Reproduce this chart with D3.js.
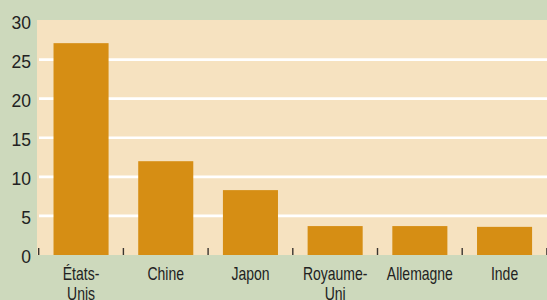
<!DOCTYPE html>
<html>
<head>
<meta charset="utf-8">
<script src="https://cdn.jsdelivr.net/npm/d3@7"></script>
<style>
  html, body { margin: 0; padding: 0; background: #cdd9bc; }
  svg { display: block; }
</style>
</head>
<body>
<svg id="chart" width="547" height="300"></svg>
<script>
// data
const countries = [['États-', 'Unis'], ['Chine'], ['Japon'], ['Royaume-', 'Uni'], ['Allemagne'], ['Inde']];
const values = [27.1, 12.0, 8.3, 3.7, 3.7, 3.6];
const yTicks = [0, 5, 10, 15, 20, 25, 30];

const width = 547;
const height = 300;
const plot = { left: 37, top: 20, bottom: 255 };

const svg = d3.select('#chart');

svg.append('rect')
  .attr('width', width)
  .attr('height', height)
  .attr('fill', '#cdd9bc');

const x = d3.scaleBand()
  .domain(d3.range(countries.length))
  .range([38.7, 546.9])
  .paddingInner(0.35)
  .paddingOuter(0.175);

const y = d3.scaleLinear()
  .domain([0, 30])
  .range([plot.bottom, plot.top + 0.5]);

// plot background
svg.append('rect')
  .attr('x', plot.left)
  .attr('y', plot.top)
  .attr('width', width - plot.left)
  .attr('height', plot.bottom - plot.top)
  .attr('fill', '#f6e2c0');

// gridlines
svg.append('g')
  .selectAll('line')
  .data(yTicks.filter(d => d > 0 && d < 30))
  .enter()
  .append('line')
  .attr('x1', 39)
  .attr('x2', width)
  .attr('y1', d => y(d))
  .attr('y2', d => y(d))
  .attr('stroke', '#ffffff')
  .attr('stroke-width', 2.6);

// bars
svg.append('g')
  .selectAll('rect')
  .data(values)
  .enter()
  .append('rect')
  .attr('x', (d, i) => x(i))
  .attr('width', x.bandwidth())
  .attr('y', d => y(d))
  .attr('height', d => y(0) - y(d))
  .attr('fill', '#d68e14');

// small ticks between categories
const step = x.step();
const boundaries = d3.range(countries.length + 1).map(i => 38.7 + i * step);
svg.append('g')
  .selectAll('line')
  .data(boundaries)
  .enter()
  .append('line')
  .attr('x1', d => d)
  .attr('x2', d => d)
  .attr('y1', plot.bottom - 7)
  .attr('y2', plot.bottom)
  .attr('stroke', '#3a3530')
  .attr('stroke-width', 1.4);

// y labels
svg.append('g')
  .selectAll('text')
  .data(yTicks)
  .enter()
  .append('text')
  .attr('x', 31)
  .attr('y', d => y(d) + 8)
  .attr('text-anchor', 'end')
  .attr('font-family', 'Liberation Sans, Arial, sans-serif')
  .attr('font-size', 17.5)
  .attr('fill', '#222')
  .text(d => d);

// x labels (condensed look: squeeze horizontally)
const lbl = svg.append('g')
  .selectAll('g')
  .data(countries)
  .enter()
  .append('g')
  .attr('transform', (d, i) => 'translate(' + (x(i) + x.bandwidth() / 2) + ',280) scale(0.8,1)')
  .append('text')
  .attr('text-anchor', 'middle')
  .attr('font-family', 'Liberation Sans, Arial, sans-serif')
  .attr('font-size', 17.5)
  .attr('fill', '#222');

lbl.selectAll('tspan')
  .data(d => d)
  .enter()
  .append('tspan')
  .attr('x', 0)
  .attr('dy', (d, i) => i === 0 ? 0 : 20)
  .text(d => d);
</script>
</body>
</html>
